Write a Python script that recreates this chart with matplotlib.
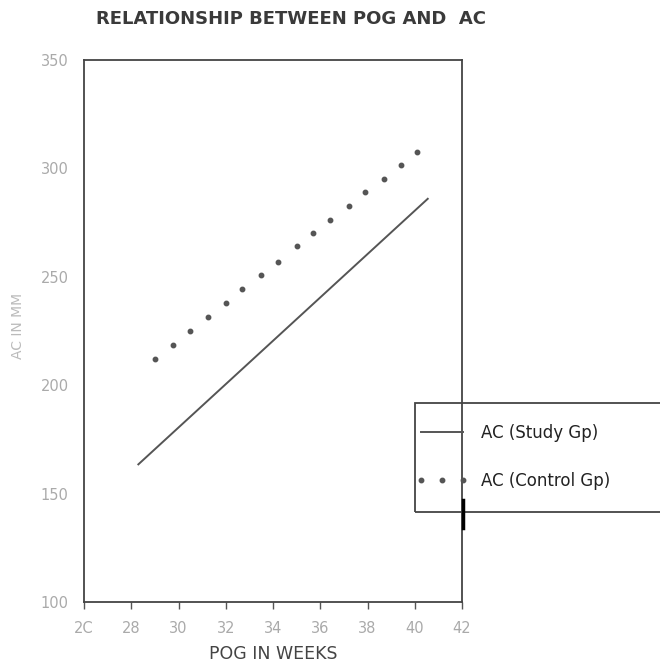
import numpy as np
import matplotlib
matplotlib.use('Agg')
import matplotlib.pyplot as plt
from matplotlib.patches import Rectangle
from matplotlib.lines import Line2D

# control group (dotted)
pog_control = [29.0, 29.75, 30.5, 31.25, 32.0, 32.7, 33.5, 34.2,
               35.0, 35.7, 36.4, 37.2, 37.9, 38.7, 39.4, 40.1]
ac_control = [212, 218.5, 225, 231.5, 238, 244.5, 251, 257,
              264, 270, 276, 282.5, 289, 295, 301.5, 307.5]

# study group (straight line) end points
pog_study = [28.3, 40.55]
ac_study = [163.5, 286]

xticks = [26, 28, 30, 32, 34, 36, 38, 40, 42]
xticklabels = ['2C', '28', '30', '32', '34', '36', '38', '40', '42']
yticks = [100, 150, 200, 250, 300, 350]

fig = plt.figure(figsize=(6.6, 6.65), dpi=100)
ax = fig.add_axes([0.1273, 0.0947, 0.5727, 0.815])

ax.plot(pog_study, ac_study, color='#555555', lw=1.4, label='AC (Study Gp)')
ax.plot(pog_control, ac_control, ls='none', marker='o', ms=3.2,
        color='#555555', label='AC (Control Gp)')

ax.set_xlim(26, 42)
ax.set_ylim(100, 350)
ax.set_xticks(xticks)
ax.set_xticklabels(xticklabels)
ax.set_yticks(yticks)
ax.tick_params(axis='x', length=5, width=1, color='#555555',
               labelsize=10.5, labelcolor='#aaaaaa', pad=9)
ax.tick_params(axis='y', length=0, labelsize=10.5, labelcolor='#aaaaaa', pad=11)
for s in ax.spines.values():
    s.set_color('#444444')
    s.set_linewidth(1.3)

ax.set_xlabel('POG IN WEEKS', fontsize=12.5, color='#444444', labelpad=6)
fig.text(0.027, 0.51, 'AC IN MM', rotation=90, fontsize=10,
         color='#bbbbbb', ha='center', va='center')
fig.text(0.441, 0.972, 'RELATIONSHIP BETWEEN POG AND  AC', fontsize=13,
         fontweight='bold', color='#3a3a3a', ha='center', va='center')

# legend box that runs off the right edge
fig.patches.append(Rectangle((415 / 660, 1 - 512 / 665), 0.5, 109 / 665,
                             transform=fig.transFigure, fill=False,
                             edgecolor='#444444', lw=1.3, clip_on=False))
fig.lines.append(Line2D([463 / 660, 463 / 660], [1 - 500 / 665, 1 - 528 / 665],
                        transform=fig.transFigure, color='black', lw=2.5))
leg = fig.legend(loc='upper left', bbox_to_anchor=(0.631, 0.362),
                 frameon=False, fontsize=12, handlelength=3.1,
                 labelspacing=1.8, handletextpad=0.8, numpoints=3,
                 labelcolor='#222222', borderaxespad=0, borderpad=0)

fig.savefig('out.png', dpi=100)
